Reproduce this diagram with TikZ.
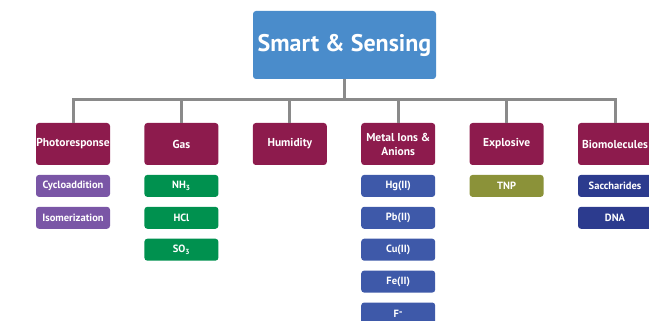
\documentclass[tikz,border=0pt]{standalone}
\usepackage{fontspec}
\setsansfont{PT Sans}
\usepackage{xcolor}
\usetikzlibrary{positioning}

\definecolor{topblue}{HTML}{4A8CCB}
\definecolor{catred}{HTML}{8D1B4D}
\definecolor{subpurple}{HTML}{7A56A6}
\definecolor{subgreen}{HTML}{00914F}
\definecolor{subblue}{HTML}{3E59A9}
\definecolor{subolive}{HTML}{8B9239}
\definecolor{subnavy}{HTML}{2C3B8E}
\definecolor{linegrey}{HTML}{8A8A8A}

\begin{document}
\begin{tikzpicture}[
  x=1pt, y=-1pt,
  node distance=9.5pt,
  root/.style={rounded corners=3pt, fill=topblue, text=white, inner sep=0pt,
               minimum width=183pt, minimum height=68pt,
               font=\sffamily\bfseries\fontsize{24}{28}\selectfont},
  cat/.style={rounded corners=3pt, fill=catred, text=white, inner sep=0pt,
              minimum width=74pt, minimum height=42pt, align=center,
              font=\sffamily\bfseries\fontsize{11.5}{14}\selectfont},
  sub/.style={rounded corners=3pt, text=white, inner sep=0pt,
              minimum width=74pt, minimum height=22pt,
              font=\sffamily\bfseries\fontsize{10.5}{12}\selectfont},
  link/.style={draw=linegrey, line width=3pt}
]
\useasboundingbox (0,0) rectangle (649,321);

\node[root] (top) at (344.5,45) {Smart \& Sensing};
\coordinate (bus) at (344.5,100);

% categories
\node[cat] (photo) at (73,144) {Photoresponse};
\node[cat] (gas) at (181.4,144) {Gas};
\node[cat] (humid) at (289.8,144) {Humidity};
\node[cat] (metal) at (398.2,144) {Metal Ions \&\\Anions};
\node[cat] (expl) at (506.6,144) {Explosive};
\node[cat] (bio) at (615,144) {Biomolecules};

% sub items
\node[sub, fill=subpurple, below=of photo] (cyclo) {Cycloaddition};
\node[sub, fill=subpurple, below=of cyclo] (isom) {Isomerization};

\node[sub, fill=subgreen, below=of gas] (nh3) {NH\textsubscript{3}};
\node[sub, fill=subgreen, below=of nh3] (hcl) {HCl};
\node[sub, fill=subgreen, below=of hcl] (so3) {SO\textsubscript{3}};

\node[sub, fill=subblue, below=of metal] (hg) {Hg(II)};
\node[sub, fill=subblue, below=of hg] (pb) {Pb(II)};
\node[sub, fill=subblue, below=of pb] (cu) {Cu(II)};
\node[sub, fill=subblue, below=of cu] (fe) {Fe(II)};
\node[sub, fill=subblue, below=of fe] (fion) {F\raisebox{2pt}{-}};

\node[sub, fill=subolive, below=of expl] (tnp) {TNP};

\node[sub, fill=subnavy, below=of bio] (sacch) {Saccharides};
\node[sub, fill=subnavy, below=of sacch] (dna) {DNA};

% tree lines
\draw[link] (top.south) -- (top.south |- bus);
\draw[link] (top.south |- bus) -| (photo.north);
\draw[link] (top.south |- bus) -| (gas.north);
\draw[link] (top.south |- bus) -| (humid.north);
\draw[link] (top.south |- bus) -| (metal.north);
\draw[link] (top.south |- bus) -| (expl.north);
\draw[link] (top.south |- bus) -| (bio.north);
\end{tikzpicture}
\end{document}
